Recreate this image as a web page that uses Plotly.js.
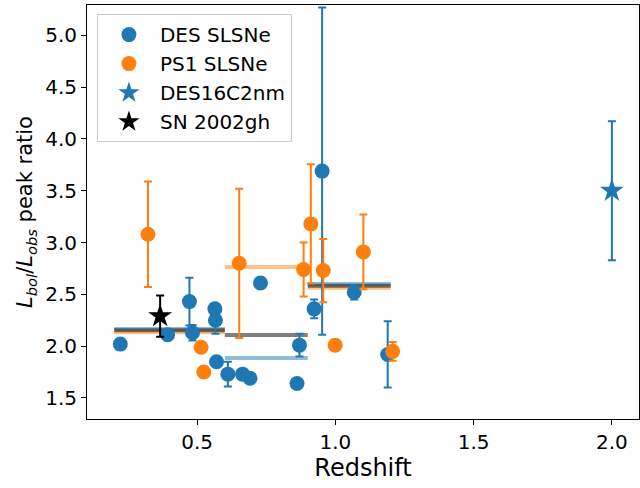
<!DOCTYPE html>
<html>
<head>
<meta charset="utf-8">
<script src="https://cdn.plot.ly/plotly-3.0.1.min.js"></script>
<style>html,body{margin:0;padding:0;background:#fff;}#chart{width:640px;height:488px;}</style>
</head>
<body>
<div id="chart"></div>
<script>
// DES SLSNe
const desZ    = [0.222, 0.393, 0.472, 0.483, 0.564, 0.566, 0.570, 0.611, 0.664, 0.691, 0.729, 0.861, 0.870, 0.923, 0.952, 1.068, 1.189];
const desR    = [2.02, 2.11, 2.43, 2.13, 2.36, 2.25, 1.85, 1.73, 1.73, 1.69, 2.61, 1.64, 2.01, 2.36, 3.69, 2.52, 1.92];
const desErr  = [0, 0, 0.23, 0.075, 0, 0.13, 0, 0.12, 0, 0, 0, 0, 0.11, 0.09, 1.58, 0.07, 0.32];
// PS1 SLSNe
const ps1Z    = [0.322, 0.652, 0.514, 0.524, 0.885, 0.911, 0.956, 1.101, 0.999, 1.207];
const ps1R    = [3.08, 2.80, 1.99, 1.75, 2.74, 3.18, 2.73, 2.91, 2.01, 1.95];
const ps1Err  = [0.51, 0.72, 0, 0.04, 0.26, 0.575, 0.305, 0.36, 0, 0.09];
// DES16C2nm
const nmZ = [2.0], nmR = [3.50], nmErr = [0.67];
// SN 2002gh
const ghZ = [0.366], ghR = [2.29], ghErr = [0.20];
// Binned means
const binLo   = [0.2, 0.6, 0.9];
const binHi   = [0.6, 0.9, 1.2];
const binDES  = [2.166, 1.886, 2.600];
const binPS1  = [2.134, 2.765, 2.565];
const binAll  = [2.153, 2.108, 2.584];

const blue = '#1f77b4', orange = '#ff7f0e';
const traces = [];
function addBins(vals, color){
  for (let i = 0; i < vals.length; i++){
    traces.push({x:[binLo[i], binHi[i]], y:[vals[i], vals[i]], mode:'lines', type:'scatter',
      line:{color:color, width:4}, opacity:0.5, showlegend:false, hoverinfo:'skip'});
  }
}
addBins(binDES, blue);
addBins(binPS1, orange);
addBins(binAll, 'black');

function eb(arr, color){ return {type:'data', array:arr, visible:true, color:color, thickness:2, width:4}; }

traces.push({name:'DES SLSNe', legendgroup:'a', x:desZ, y:desR, mode:'markers', type:'scatter',
  marker:{color:blue, size:15, symbol:'circle'}, error_y:eb(desErr, blue)});
traces.push({name:'PS1 SLSNe', legendgroup:'b', x:ps1Z, y:ps1R, mode:'markers', type:'scatter',
  marker:{color:orange, size:15, symbol:'circle'}, error_y:eb(ps1Err, orange)});
traces.push({name:'DES16C2nm', legendgroup:'c', x:nmZ, y:nmR, mode:'markers', type:'scatter',
  marker:{color:blue, size:18, symbol:'star'}, error_y:eb(nmErr, blue)});
traces.push({name:'SN 2002gh', legendgroup:'d', x:ghZ, y:ghR, mode:'markers', type:'scatter',
  marker:{color:'black', size:18, symbol:'star'}, error_y:eb(ghErr, 'black')});

const axisCommon = {showline:true, mirror:true, linecolor:'black', linewidth:1, ticks:'outside',
  ticklen:5, tickcolor:'black', showgrid:false, zeroline:false, tickfont:{size:20, color:'black'}};

const layout = {
  width:640, height:488,
  margin:{l:87, r:1, t:5, b:69},
  font:{family:'DejaVu Sans', color:'black'},
  paper_bgcolor:'white', plot_bgcolor:'white',
  xaxis:Object.assign({}, axisCommon, {range:[0.1015, 2.098], tickvals:[0.5,1.0,1.5,2.0], ticktext:['0.5','1.0','1.5','2.0'],
    title:{text:'Redshift', font:{size:24}, standoff:2}}),
  yaxis:Object.assign({}, axisCommon, {range:[1.297, 5.293], tickvals:[1.5,2.0,2.5,3.0,3.5,4.0,4.5,5.0], ticktext:['1.5','2.0','2.5','3.0','3.5','4.0','4.5','5.0'],
    title:{text:'<i>L</i><sub><i>bol</i></sub>/<i>L</i><sub><i>obs</i></sub> peak ratio', font:{size:21}, standoff:6}}),
  legend:{x:0.018, y:0.978, xanchor:'left', yanchor:'top', bgcolor:'rgba(255,255,255,0.8)',
    bordercolor:'#cccccc', borderwidth:1, font:{size:20}, tracegroupgap:0, itemwidth:52},
  showlegend:true
};
Plotly.newPlot('chart', traces, layout, {staticPlot:true});
</script>
</body>
</html>
